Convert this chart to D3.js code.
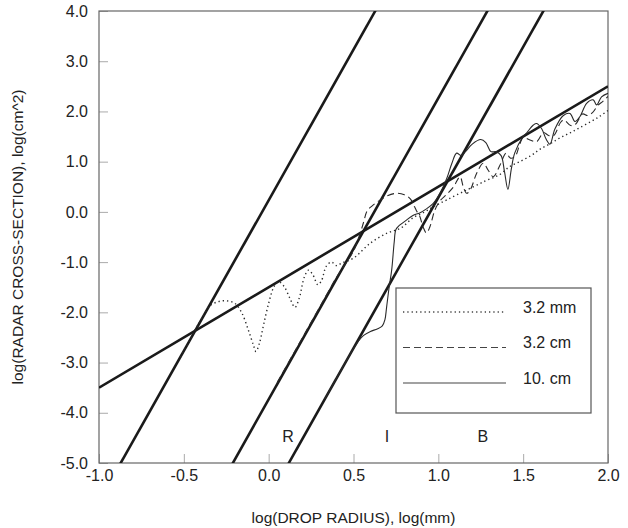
<!DOCTYPE html>
<html>
<head>
<meta charset="utf-8">
<script src="https://cdn.jsdelivr.net/npm/d3@7"></script>
<style>
  html, body { margin: 0; padding: 0; background: #fff; }
  svg text { font-family: "Liberation Sans", Arial, Helvetica, sans-serif; fill: #222; }
</style>
</head>
<body>
<svg id="chart" width="628" height="528"></svg>
<script>
// Axis ticks
const xTicks = [-1.0, -0.5, 0.0, 0.5, 1.0, 1.5, 2.0];
const yTicks = [-5, -4, -3, -2, -1, 0, 1, 2, 3, 4];

// Rayleigh lines (slope 6) for each wavelength, given by intercepts
const rayleighSlope = 6;
const rayleighIntercepts = [0.232, -3.734, -5.714];

// Geometric-optics line (slope 2)
const opticsSlope = 2;
const opticsIntercept = -1.5;

// Region labels
const regionLabels = ["R", "I", "B"];
const regionX = [0.114, 0.697, 1.263];
const regionY = -4.48;

// Series: log(drop radius), log(cross-section)
const seriesNames = ["3.2 mm", "3.2 cm", "10. cm"];

const mm32 = [
  [-0.52,-2.89],[-0.47,-2.59],[-0.43,-2.33],[-0.39,-2.10],[-0.35,-1.88],[-0.30,-1.79],
  [-0.25,-1.77],[-0.20,-1.82],[-0.16,-2.0],[-0.12,-2.35],[-0.09,-2.65],[-0.075,-2.78],
  [-0.055,-2.62],[-0.03,-2.25],[0.0,-1.82],[0.03,-1.5],[0.057,-1.39],[0.09,-1.48],
  [0.125,-1.72],[0.155,-1.90],[0.18,-1.72],[0.21,-1.30],[0.235,-1.16],[0.26,-1.25],
  [0.29,-1.45],[0.31,-1.38],[0.34,-1.08],[0.37,-1.0],[0.40,-1.07],[0.43,-1.02],
  [0.5,-0.92],[0.6,-0.62],[0.7,-0.42],[0.78,-0.32],[0.85,-0.12],[0.92,0.0],
  [0.97,0.10],[1.05,0.24],[1.17,0.44],[1.28,0.62],[1.36,0.74],[1.42,0.9],
  [1.48,1.0],[1.55,1.13],[1.6,1.25],[1.66,1.36],[1.72,1.48],[1.78,1.58],
  [1.83,1.67],[1.9,1.8],[1.95,1.9],[2.0,2.02]
];

const cm32 = [
  [0.05,-3.40],[0.1,-3.1],[0.15,-2.8],[0.2,-2.5],[0.25,-2.2],[0.3,-1.9],[0.35,-1.6],
  [0.4,-1.3],[0.45,-1.05],[0.5,-0.78],[0.54,-0.42],[0.56,-0.2],[0.58,0.02],[0.61,0.12],
  [0.65,0.22],[0.7,0.32],[0.755,0.37],[0.8,0.34],[0.835,0.26],[0.86,0.1],[0.875,0.0],
  [0.89,-0.08],[0.91,-0.30],[0.93,-0.42],[0.95,-0.3],[0.98,0.04],[1.01,0.22],[1.05,0.35],
  [1.09,0.5],[1.128,0.70],[1.147,0.50],[1.167,0.37],[1.19,0.45],[1.226,0.77],[1.265,0.97],
  [1.294,0.83],[1.324,0.70],[1.363,0.93],[1.40,1.17],[1.425,1.07],[1.452,1.10],[1.48,1.35],
  [1.50,1.48],[1.54,1.43],[1.58,1.40],[1.62,1.58],[1.65,1.52],[1.68,1.52],[1.72,1.78],
  [1.74,1.83],[1.78,1.72],[1.81,1.75],[1.85,1.95],[1.88,1.92],[1.91,1.98],[1.94,2.12],
  [1.97,2.2],[2.0,2.3]
];

const cm10 = [
  [0.33,-3.73],[0.4,-3.31],[0.45,-3.01],[0.5,-2.72],[0.53,-2.57],[0.56,-2.46],[0.6,-2.38],
  [0.64,-2.33],[0.67,-2.27],[0.685,-2.15],[0.695,-1.9],[0.71,-1.5],[0.725,-1.16],[0.74,-0.6],
  [0.75,-0.35],[0.77,-0.27],[0.81,-0.17],[0.85,-0.07],[0.89,-0.02],[0.93,0.06],[0.97,0.17],
  [1.01,0.37],[1.05,0.67],[1.08,0.97],[1.108,1.17],[1.135,1.12],[1.16,1.2],[1.2,1.35],
  [1.25,1.44],[1.28,1.38],[1.31,1.2],[1.34,1.2],[1.37,1.12],[1.39,0.8],[1.41,0.45],
  [1.43,0.85],[1.45,1.17],[1.5,1.5],[1.52,1.57],[1.56,1.73],[1.58,1.76],[1.61,1.65],
  [1.635,1.45],[1.658,1.35],[1.687,1.65],[1.737,1.92],[1.776,1.96],[1.805,1.80],
  [1.835,1.90],[1.874,2.16],[1.913,2.23],[1.933,2.13],[1.962,2.29],[2.0,2.36]
];

const seriesData = [mm32, cm32, cm10];
const seriesDash = ["1.3,3", "7,4", null];

const svg = d3.select("#chart");
const plotLeft = 99, plotRight = 608, plotTop = 11, plotBottom = 463;
const fontSize = 16;

const x = d3.scaleLinear().domain([-1, 2]).range([plotLeft, plotRight]);
const y = d3.scaleLinear().domain([-5, 4]).range([plotBottom, plotTop]);

// Clip for everything inside the frame
svg.append("defs").append("clipPath").attr("id", "plotClip")
  .append("rect").attr("x", plotLeft).attr("y", plotTop)
  .attr("width", plotRight - plotLeft).attr("height", plotBottom - plotTop);

// Axes with inward ticks
const fmt = d => d3.format(".1f")(d).replace("\u2212", "-");
const yAxis = svg.append("g").attr("transform", `translate(${plotLeft},0)`)
  .call(d3.axisLeft(y).tickValues(yTicks).tickSizeInner(-9).tickSizeOuter(0)
    .tickPadding(11).tickFormat(fmt));
const xAxis = svg.append("g").attr("transform", `translate(0,${plotBottom})`)
  .call(d3.axisBottom(x).tickValues(xTicks).tickSizeInner(-9).tickSizeOuter(0)
    .tickPadding(7).tickFormat(fmt));
[yAxis, xAxis].forEach(g => {
  g.select(".domain").remove();
  g.selectAll(".tick line").attr("stroke", "#aaa").attr("stroke-width", 1);
  g.selectAll(".tick text").attr("font-size", fontSize).attr("fill", "#222")
    .style("font-family", '"Liberation Sans", Arial, sans-serif');
});

// Frame
svg.append("rect").attr("x", plotLeft).attr("y", plotTop)
  .attr("width", plotRight - plotLeft).attr("height", plotBottom - plotTop)
  .attr("fill", "none").attr("stroke", "#666").attr("stroke-width", 1.2);

const plot = svg.append("g").attr("clip-path", "url(#plotClip)");

// Straight reference lines
const lineGen = d3.line().x(d => x(d[0])).y(d => y(d[1]));
rayleighIntercepts.forEach(b => {
  const pts = [-1, 2].map(v => [v, rayleighSlope * v + b]);
  plot.append("path").attr("d", lineGen(pts))
    .attr("fill", "none").attr("stroke", "#1a1a1a").attr("stroke-width", 2.6);
});
plot.append("path")
  .attr("d", lineGen([-1, 2].map(v => [v, opticsSlope * v + opticsIntercept])))
  .attr("fill", "none").attr("stroke", "#1a1a1a").attr("stroke-width", 2.6);

// Cross-section curves
const curveGen = d3.line().x(d => x(d[0])).y(d => y(d[1])).curve(d3.curveCatmullRom.alpha(0.5));
seriesData.forEach((s, i) => {
  plot.append("path").attr("d", curveGen(s))
    .attr("fill", "none").attr("stroke", "#2a2a2a").attr("stroke-width", i === 0 ? 1.4 : 1.1)
    .attr("stroke-dasharray", seriesDash[i]);
});

// Region labels
regionLabels.forEach((t, i) => {
  svg.append("text").attr("x", x(regionX[i])).attr("y", y(regionY))
    .attr("text-anchor", "middle").attr("dominant-baseline", "central")
    .attr("font-size", fontSize).text(t);
});

// Legend
const legend = svg.append("g");
legend.append("rect").attr("x", 396).attr("y", 288).attr("width", 195).attr("height", 125)
  .attr("fill", "#fff").attr("stroke", "#555").attr("stroke-width", 1.2);
seriesNames.forEach((name, i) => {
  const ly = 312 + i * 35.5;
  legend.append("line").attr("x1", 403).attr("x2", 506).attr("y1", ly).attr("y2", ly)
    .attr("stroke", "#444").attr("stroke-width", i === 0 ? 1.3 : 1.1)
    .attr("stroke-dasharray", seriesDash[i]);
  legend.append("text").attr("x", 523).attr("y", ly - 5)
    .attr("dominant-baseline", "central").attr("font-size", fontSize).text(name);
});

// Axis titles
svg.append("text").attr("x", (plotLeft + plotRight) / 2).attr("y", 517)
  .attr("text-anchor", "middle").attr("dominant-baseline", "central")
  .attr("font-size", 15.5).text("log(DROP RADIUS), log(mm)");
svg.append("text").attr("transform", `translate(17,${(plotTop + plotBottom) / 2}) rotate(-90)`)
  .attr("text-anchor", "middle").attr("dominant-baseline", "central")
  .attr("font-size", 15.5).text("log(RADAR CROSS-SECTION), log(cm^2)");
</script>
</body>
</html>
